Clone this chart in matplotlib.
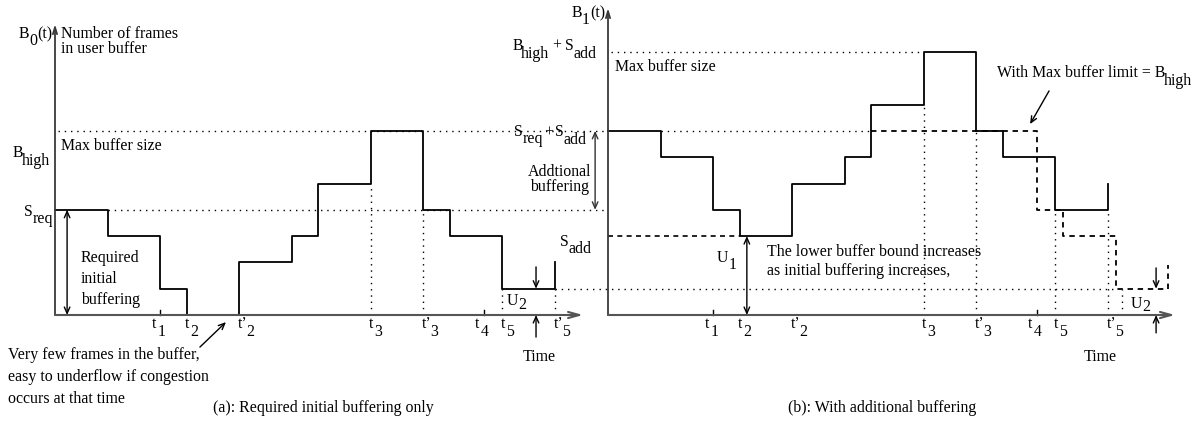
import matplotlib
matplotlib.use("Agg")
import matplotlib.pyplot as plt
import matplotlib.transforms as mtransforms

# Buffer occupancy diagram, two panels
plt.rcParams['font.family'] = ['Liberation Serif', 'DejaVu Serif']
FS = 11.4

# Step function data (time units, buffer level units)
STEP_T = [0, 2, 4, 5, 7, 9, 10, 12, 14, 15, 17, 19, 19]
B0 = [4, 3, 1, 0, 2, 3, 5, 7, 4, 3, 1, 1, 2]
B1 = [7, 6, 4, 3, 5, 6, 8, 10, 7, 6, 4, 4, 5]
LIMIT_T = [10, 16.3, 17.3, 19.3, 21.3, 21.3]
B1_LIMIT = [7, 4, 3, 1, 1, 1.9]

S_REQ = 4
S_ADD = 3
B_HIGH = 7
U_LEVEL = 1

TICK_T = [4, 5, 7, 12, 14, 16.3, 17, 19]
TICK_SUB = ['1', '2', '2', '3', '3', '4', '5', '5']
TICK_PRIME = [False, False, True, False, True, False, False, True]
TICK_SHIFT = [-0.3, -0.05, -0.05, -0.05, -0.05, -0.32, -0.05, -0.05]

U = 26.3  # pixels per unit
W, H = 1197, 429

fig = plt.figure(figsize=(W / 100, H / 100), dpi=100)
axa = fig.add_axes([0, 0, 1, 1])
axb = fig.add_axes([0, 0, 1, 1])
for ax, x0 in ((axa, 55), (axb, 608)):
    ax.set_xlim(-x0 / U, (W - x0) / U)
    ax.set_ylim(-(H - 315) / U, 315 / U)
    ax.axis('off')
    ax.patch.set_alpha(0)

renderer = fig.canvas.get_renderer()
AX_COL = '#3a3a3a'
DOT = (0, (1, 3.5))
DASH = (0, (3, 2.6))


def rich(ax, x, y, parts, ha='left'):
    """parts: (text, drop in px, gap before in px)"""
    items = []
    for s, dy, gap in parts:
        t = ax.text(x, y, s, va='baseline', ha='left', fontsize=FS)
        w = t.get_window_extent(renderer=renderer).width
        items.append((t, w, dy, gap))
    total = sum(w + g for _, w, _, g in items)
    off = {'left': 0, 'right': -total, 'center': -total / 2}[ha]
    for t, w, dy, gap in items:
        off += gap
        t.set_transform(mtransforms.offset_copy(ax.transData, fig=fig,
                                                x=off, y=-dy, units='dots'))
        off += w


def arrow(ax, start, end, style='->', lw=1.0, col='black', hl=0.45, hw=0.2):
    ax.annotate('', xy=end, xytext=start,
                arrowprops=dict(arrowstyle=f'{style},head_length={hl},head_width={hw}',
                                lw=lw, color=col, shrinkA=0, shrinkB=0))


def hdot(ax, y, x1, x2, ls=DOT, lw=1.0):
    ax.plot([x1, x2], [y, y], color='black', lw=lw, linestyle=ls, clip_on=False)


def vdot(ax, x, y1, y2, ls=DOT, lw=1.0):
    ax.plot([x, x], [y1, y2], color='black', lw=lw, linestyle=ls, clip_on=False)


def time_labels(ax):
    for t, sub, pr, sh in zip(TICK_T, TICK_SUB, TICK_PRIME, TICK_SHIFT):
        main = 't\u2019' if pr else 't'
        rich(ax, t + sh, -0.49, [(main, 0, 0), (sub, 8, -1 if pr else 1)])
    for t in (TICK_T[0], TICK_T[5]):
        ax.plot([t, t], [0, 0.2], color='black', lw=1.0)


# ---------------- panel (a) ----------------
hdot(axa, B_HIGH, 0.1, 21.0)
hdot(axa, S_REQ, 2, 21.0)
hdot(axa, U_LEVEL, 19, 20.6)
vdot(axa, 12, 0, 5)
vdot(axa, 14, 0, 4)
vdot(axa, 17, 0, 1)
vdot(axa, 19, 0, 1)

axa.step(STEP_T, B0, where='post', color='black', lw=1.3)

arrow(axa, (0, 0), (0, 11.06), lw=1.3, col=AX_COL, hl=0.5, hw=0.15)
arrow(axa, (0, 0), (20.08, 0), lw=1.5, col='#555555', hl=0.8, hw=0.22)
time_labels(axa)

rich(axa, -0.11, 10.53, [('B', 0, 0), ('0', 7, 0), ('(t)', 0, 0)], ha='right')
axa.text(0.23, 10.53, 'Number of frames', fontsize=FS, va='baseline')
axa.text(0.23, 9.96, 'in user buffer', fontsize=FS, va='baseline')
axa.text(0.23, 6.27, 'Max buffer size', fontsize=FS, va='baseline')
rich(axa, -0.2, 6.0, [('B', 0, 0), ('high', 8, -2)], ha='right')
rich(axa, -0.08, 3.76, [('S', 0, 0), ('req', 7, 0)], ha='right')

arrow(axa, (0.46, 0), (0.46, S_REQ), style='<->', lw=1.0)
for s, yb in (('Required', 2.02), ('initial', 1.22), ('buffering', 0.42)):
    axa.text(0.99, yb, s, fontsize=FS, va='baseline')

rich(axa, 17.19, 0.38, [('U', 0, 0), ('2', 4, 0)])
arrow(axa, (18.29, 1.83), (18.29, U_LEVEL), lw=1.0)
arrow(axa, (18.29, -0.84), (18.29, 0), lw=1.0)
axa.text(18.4, -1.75, 'Time', fontsize=FS, va='baseline', ha='center')

for s, yb in (('Very few frames in the buffer,', -1.67),
              ('easy to underflow if congestion', -2.51),
              ('occurs at that time', -3.35)):
    axa.text(-1.79, yb, s, fontsize=FS, va='baseline')
arrow(axa, (5.51, -1.22), (6.5, -0.27), lw=1.0)
axa.text(6.0, -3.69, '(a): Required initial buffering only', fontsize=FS, va='baseline')

# ---------------- panel (b) ----------------
hdot(axb, B_HIGH + S_ADD, 0.1, 12)
hdot(axb, S_REQ + S_ADD, 2, 10)
hdot(axb, U_LEVEL, -0.35, 19.3)
hdot(axb, S_ADD, 0, 5, ls=DASH, lw=1.2)
vdot(axb, 12, 0, 8)
vdot(axb, 14, 0, 7)
vdot(axb, 17, 0, 4)
vdot(axb, 19, 0, 4)
vdot(axb, 19.55, 0, 1)

axb.step(STEP_T, B1, where='post', color='black', lw=1.3)
axb.step(LIMIT_T, B1_LIMIT, where='post', color='black', lw=1.3, linestyle=DASH)

arrow(axb, (0, 0), (0, 11.67), lw=1.3, col=AX_COL, hl=0.5, hw=0.15)
arrow(axb, (0, 0), (21.56, 0), lw=1.5, col='#555555', hl=0.8, hw=0.22)
time_labels(axb)

rich(axb, -0.11, 11.33, [('B', 0, 0), ('1', 7, 0), ('(t)', 0, 0)], ha='right')
rich(axb, -0.42, 10.08, [('B', 0, 0), ('high', 8, -2), ('+', 0, 3), ('S', 0, 4), ('add', 8, 0)],
     ha='right')
axb.text(0.27, 9.28, 'Max buffer size', fontsize=FS, va='baseline')
rich(axb, -0.8, 6.8, [('S', 0, 0), ('req', 7, 0), ('+', 0, 1), ('S', 0, 2), ('add', 8, 0)],
     ha='right')
arrow(axb, (-0.49, S_REQ), (-0.49, S_REQ + S_ADD), style='<->', lw=1.0, col='#333333')
axb.text(-1.83, 5.3, 'Addtional', fontsize=FS, va='baseline', ha='center')
axb.text(-1.83, 4.72, 'buffering', fontsize=FS, va='baseline', ha='center')
rich(axb, -0.61, 2.62, [('S', 0, 0), ('add', 7, 0)], ha='right')

arrow(axb, (5.28, 0), (5.28, S_ADD), style='<->', lw=1.0)
rich(axb, 4.14, 2.02, [('U', 0, 0), ('1', 7, 0)])
axb.text(6.05, 2.24, 'The lower buffer bound increases', fontsize=FS, va='baseline')
axb.text(6.05, 1.52, 'as initial buffering increases,', fontsize=FS, va='baseline')

rich(axb, 14.79, 9.05, [('With Max buffer limit = B', 0, 0), ('high', 8, -2)])
arrow(axb, (16.77, 8.52), (16.05, 7.26), lw=1.0)

rich(axb, 19.89, 0.27, [('U', 0, 0), ('2', 3, 0)])
arrow(axb, (20.84, 1.79), (20.84, U_LEVEL), lw=1.0)
arrow(axb, (20.84, -0.68), (20.84, 0), lw=1.0)
axb.text(18.71, -1.75, 'Time', fontsize=FS, va='baseline', ha='center')
axb.text(6.84, -3.69, '(b): With additional buffering', fontsize=FS, va='baseline')

fig.savefig('out.png', dpi=100, facecolor='white')
